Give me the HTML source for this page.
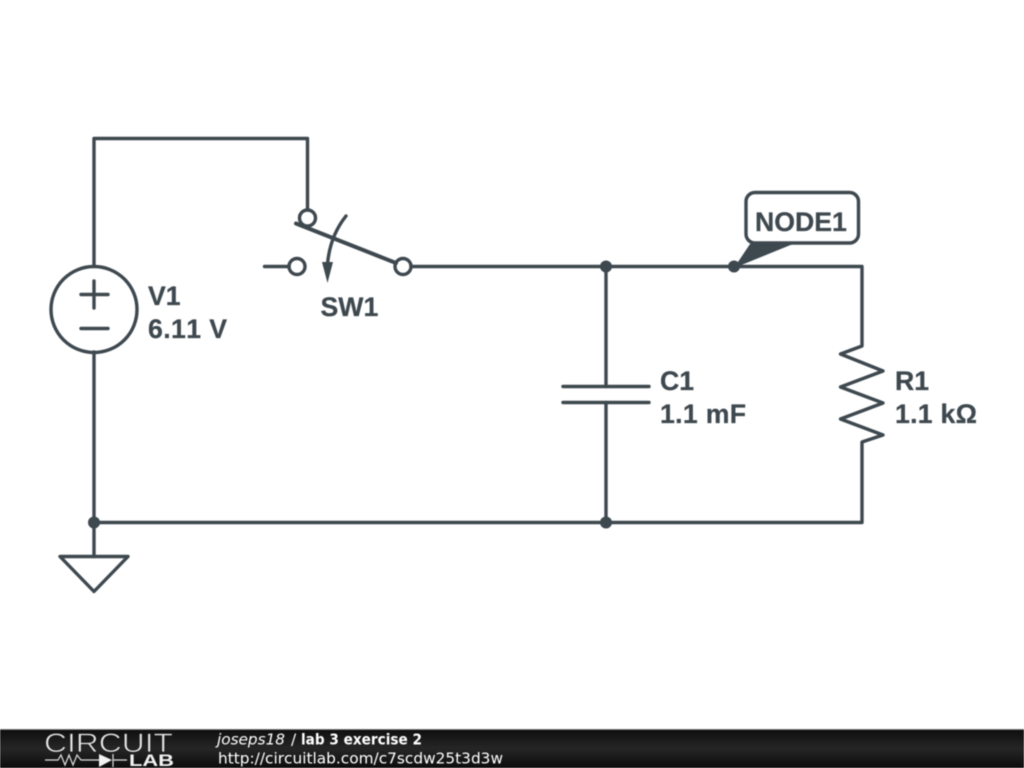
<!DOCTYPE html>
<html><head><meta charset="utf-8"><style>
html,body{margin:0;padding:0;background:#fff;width:1024px;height:768px;overflow:hidden}
svg{display:block;position:absolute;left:0;top:0;filter:blur(0.4px)}
text{font-kerning:none}
</style></head><body>
<svg width="1024" height="768" viewBox="0 0 1024 768" xmlns="http://www.w3.org/2000/svg">
<defs>
<linearGradient id="bar" x1="0" y1="0" x2="0" y2="1"><stop offset="0" stop-color="#0e0e0e"/><stop offset="0.5" stop-color="#262626"/><stop offset="1" stop-color="#0c0c0c"/></linearGradient>
</defs>
<rect width="1024" height="768" fill="#fff"/>
<g fill="none" stroke="#3e484f" stroke-width="3.400" stroke-linecap="round" stroke-linejoin="round">
<path d="M94 265V138.500H307.500V210"/>
<path d="M94 352V556.500"/>
<path d="M411 266.500H862V346L840.500 354L883 371L840.500 387L883 403L840.500 419L883 435L862 442V522.500H94"/>
<path d="M606 266.500V386.500M606 402.500V522.500"/>
<path d="M563 386.500H649M563 402.500H649"/>
<circle cx="94" cy="309.500" r="43"/>
<path d="M81 294.500H108M94 281V308M81 328.500H108"/>
<path d="M264.500 266.500H289"/>
<circle cx="307.500" cy="218" r="8"/>
<circle cx="297" cy="266.500" r="8"/>
<circle cx="403" cy="266.500" r="8"/>
<path d="M296 223.500L396 263" stroke-width="4"/>
<path d="M346 216Q330 236 327.500 264"/>
<path d="M60 556.500H128L94 591.500Z"/>
<rect x="746" y="192.500" width="112.500" height="50.500" rx="9" ry="9" fill="#fff"/>
</g>
<polygon points="322,262 333,262 327.500,283" fill="#3e484f"/>
<polygon points="750,244 793,244 734,268" fill="#3e484f"/>
<g fill="#3e484f">
<circle cx="606" cy="266.500" r="6"/>
<circle cx="734" cy="266.500" r="6"/>
<circle cx="606" cy="522.500" r="6"/>
<circle cx="94" cy="522.500" r="6"/>
</g>
<g font-family="'Liberation Sans',sans-serif" font-weight="bold" font-size="26.670" fill="#3e484f" stroke="#3e484f" stroke-width="0.250">
<text x="148" y="305">V1</text>
<text x="148" y="338" textLength="79">6.11 V</text>
<text x="320.500" y="316">SW1</text>
<text x="755" y="231">NODE1</text>
<text x="660" y="390">C1</text>
<text x="660" y="423" textLength="86">1.1 mF</text>
<text x="895" y="390">R1</text>
<text x="895" y="423" textLength="82">1.1 kΩ</text>
</g>
<rect x="0" y="729" width="1024" height="39" fill="url(#bar)"/>
<rect x="0" y="729" width="1024" height="1" fill="#777"/>
<text x="44" y="752" font-family="'Liberation Sans',sans-serif" font-size="26.500" fill="#e8e8e8" stroke="#1c1c1c" stroke-width="0.700" textLength="129" lengthAdjust="spacingAndGlyphs">CIRCUIT</text>
<text x="129" y="766" font-family="'Liberation Sans',sans-serif" font-weight="bold" font-size="17" fill="#f2f2f2" textLength="45" lengthAdjust="spacingAndGlyphs">LAB</text>
<path d="M45 760H58L61 755L65 765L69 755L73 765L77 755L81 760H99M113 760H127M113 754V767" fill="none" stroke="#e0e0e0" stroke-width="1.200"/>
<polygon points="99,754 99,767 112,760" fill="#f2f2f2"/>
<g font-family="'DejaVu Sans',sans-serif" font-size="15.300" fill="#fff">
<text x="217" y="744.500" font-style="italic" textLength="68" lengthAdjust="spacingAndGlyphs">joseps18</text>
<text x="291" y="744.500">/</text>
<text x="301" y="744.500" font-weight="bold" textLength="121" lengthAdjust="spacingAndGlyphs">lab 3 exercise 2</text>
<text x="218" y="763.500" textLength="285" lengthAdjust="spacingAndGlyphs">http://circuitlab.com/c7scdw25t3d3w</text>
</g>
</svg>
</body></html>
